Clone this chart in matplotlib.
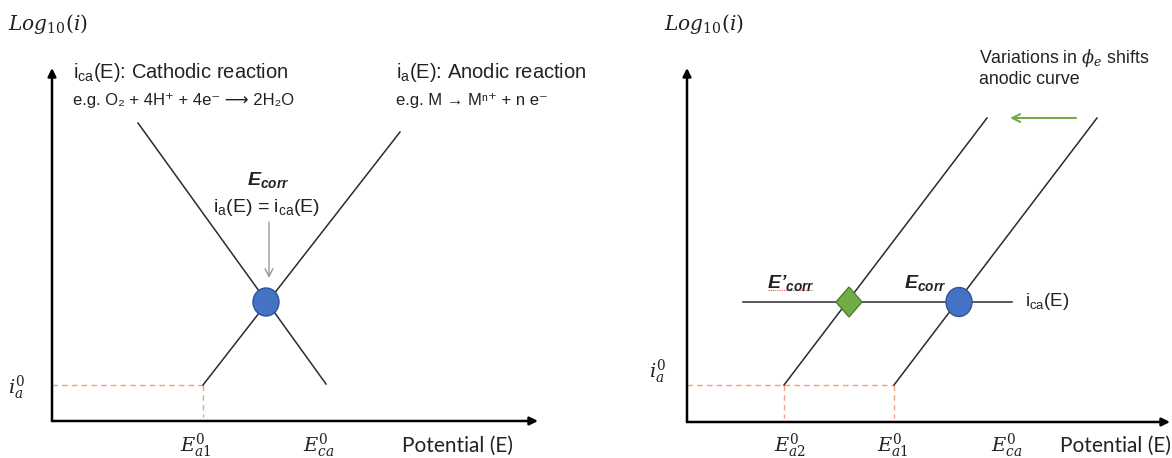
import matplotlib
matplotlib.use('Agg')
import matplotlib.pyplot as plt
from matplotlib.patches import Ellipse, Polygon

# -------------------------------
# Schematic data (diagram units = pixel grid of the figure, y grows downward)
# -------------------------------
# left panel: one metal, cathodic + anodic Tafel lines
left_cath_E = [138, 326]
left_cath_logi = [123, 384]
left_anod_E = [203, 400]
left_anod_logi = [385, 132]
left_ecorr = (266, 302)
left_Ea1 = 203
left_ia0 = 385
left_xlabels = [r'$E_{a1}^0$', r'$E_{ca}^0$']

# right panel: anodic curve shifted by a change in phi_e
right_anod1_E = [894, 1097]
right_anod2_E = [784, 987]
right_anod_logi = [385, 118]
right_cath_E = [743, 1012]
right_cath_logi = [302, 302]
right_ecorr = (959, 302)
right_ecorr2 = (849, 302)
right_Ea = [784, 894]
right_ia0 = 385
right_xlabels = [r'$E_{a2}^0$', r'$E_{a1}^0$', r'$E_{ca}^0$']

# -------------------------------
# Styles
# -------------------------------
plt.rcParams['font.family'] = ['Liberation Sans', 'DejaVu Sans']
plt.rcParams['mathtext.fontset'] = 'custom'
plt.rcParams['mathtext.rm'] = 'Liberation Sans'
plt.rcParams['mathtext.it'] = 'Liberation Sans:italic'
plt.rcParams['mathtext.bf'] = 'Liberation Sans:bold'
plt.rcParams['mathtext.bfit'] = 'Liberation Sans:bold:italic'

LINE = '#2b2b2b'
DASH = '#F4A07A'
BLUE = '#4472C4'
BLUE_EDGE = '#2F5597'
GREEN = '#70AD47'
GREEN_EDGE = '#507E32'
SERIF = 'dejavuserif'
TXT = '#222222'

fig = plt.figure(figsize=(11.72, 4.58), dpi=100)
ax = fig.add_axes([0, 0, 1, 1])
ax.set_xlim(0, 1172)
ax.set_ylim(458, 0)
ax.axis('off')


def axis_arrow(origin, tip):
    ax.annotate('', xy=tip, xytext=origin,
                arrowprops=dict(arrowstyle='-|>', lw=1.8, color='black',
                                mutation_scale=12, shrinkA=0, shrinkB=0))


def serif_text(x, y, s, size=14, ha='center'):
    ax.text(x, y, s, fontsize=size, ha=ha, va='center', math_fontfamily=SERIF, color=TXT)


EG_O2 = 'e.g. O₂ + 4H⁺ + 4e⁻ ⟶ 2H₂O'
EG_M = 'e.g. M → Mⁿ⁺ + n e⁻'

# -------------------------------
# Left panel
# -------------------------------
axis_arrow((52, 421), (52, 68))
axis_arrow((52, 421), (538, 421))
ax.plot([52, left_Ea1], [left_ia0, left_ia0], ls=(0, (4, 3)), color=DASH, lw=1)
ax.plot([left_Ea1, left_Ea1], [left_ia0, 417], ls=(0, (4, 3)), color=DASH, lw=1)
ax.plot(left_cath_E, left_cath_logi, color=LINE, lw=1.1)
ax.plot(left_anod_E, left_anod_logi, color=LINE, lw=1.1)
ax.add_patch(Ellipse(left_ecorr, 26, 28, facecolor=BLUE, edgecolor=BLUE_EDGE, lw=1, zorder=5))
ax.annotate('', xy=(269, 278), xytext=(269, 222),
            arrowprops=dict(arrowstyle='->', lw=1, color='#9a9a9a', mutation_scale=14,
                            shrinkA=0, shrinkB=0))

serif_text(8, 24, r'$Log_{10}(i)$', size=14.5, ha='left')
serif_text(8, 388, r'$i_a^0$', ha='left')
for x, lab in zip([196, 319], left_xlabels):
    serif_text(x, 446, lab)
ax.text(402, 446, 'Potential (E)', fontsize=15, family='Lato', va='center', color=TXT)

ax.text(73, 72, r'i$_{\mathrm{ca}}$(E): Cathodic reaction', fontsize=14.5, va='center', color=TXT)
ax.text(73, 101, EG_O2, fontsize=12, va='center', color=TXT)
ax.text(396, 72, r'i$_{\mathrm{a}}$(E): Anodic reaction', fontsize=14.5, va='center', color=TXT)
ax.text(396, 101, EG_M, fontsize=12, va='center', color=TXT)
ax.text(268, 180, r'E$_{\mathbfit{corr}}$', fontsize=14, fontweight='bold', style='italic',
        ha='center', va='center', color=TXT)
ax.text(267, 208, r'i$_{\mathrm{a}}$(E) = i$_{\mathrm{ca}}$(E)', fontsize=14, ha='center',
        va='center', color=TXT)

# -------------------------------
# Right panel
# -------------------------------
axis_arrow((687, 422), (687, 68))
axis_arrow((687, 422), (1170, 422))
ax.plot([687, right_Ea[1]], [right_ia0, right_ia0], ls=(0, (4, 3)), color=DASH, lw=1)
for e in right_Ea:
    ax.plot([e, e], [right_ia0, 418], ls=(0, (4, 3)), color=DASH, lw=1)
ax.plot(right_anod1_E, right_anod_logi, color=LINE, lw=1.1)
ax.plot(right_anod2_E, right_anod_logi, color=LINE, lw=1.1)
ax.plot(right_cath_E, right_cath_logi, color=LINE, lw=1.1)
ax.add_patch(Ellipse(right_ecorr, 26, 29, facecolor=BLUE, edgecolor=BLUE_EDGE, lw=1, zorder=5))
cx, cy = right_ecorr2
ax.add_patch(Polygon([(cx - 13, cy), (cx, cy - 15), (cx + 13, cy), (cx, cy + 15)],
                     closed=True, facecolor=GREEN, edgecolor=GREEN_EDGE, lw=1, zorder=5))
ax.annotate('', xy=(1010, 118), xytext=(1076, 118),
            arrowprops=dict(arrowstyle='->', lw=1.5, color=GREEN, mutation_scale=14,
                            shrinkA=0, shrinkB=0))

serif_text(664, 24, r'$Log_{10}(i)$', size=14.5, ha='left')
serif_text(649, 372, r'$i_a^0$', ha='left')
for x, lab in zip([790, 893, 1007], right_xlabels):
    serif_text(x, 446, lab)
ax.text(1060, 446, 'Potential (E)', fontsize=15, family='Lato', va='center', color=TXT)

ax.text(979, 58, r'Variations in $\phi_e$ shifts', fontsize=12.8, va='center',
        math_fontfamily=SERIF, color=TXT)
ax.text(979, 80, 'anodic curve', fontsize=12.8, va='center', color=TXT)
ax.text(1025, 302, r'i$_{\mathrm{ca}}$(E)', fontsize=13.5, va='center', color=TXT)
ax.text(767, 283, r'E’$_{\mathbfit{corr}}$', fontsize=14, fontweight='bold', style='italic',
        va='center', color=TXT)
# spell-check underline seen under E'corr in the source slide
ax.plot([768, 813], [290, 290], ls=(0, (1, 1)), color='#e06060', lw=0.8)
ax.text(904, 283, r'E$_{\mathbfit{corr}}$', fontsize=14, fontweight='bold', style='italic',
        va='center', color=TXT)

fig.savefig('out.png', dpi=100)
